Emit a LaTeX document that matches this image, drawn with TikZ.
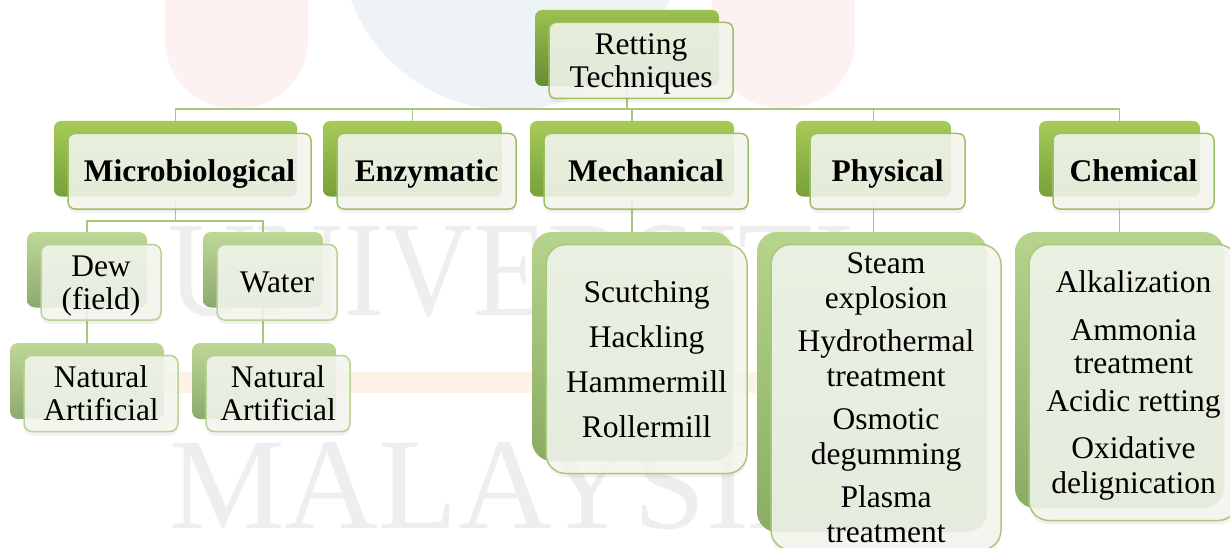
\documentclass[tikz,border=0pt]{standalone}
\usepackage{fontspec}
\setmainfont{Liberation Serif}
\usetikzlibrary{calc,shadows}

\definecolor{conncol}{HTML}{A8C67C}
\definecolor{rootTop}{HTML}{9BC150}
\definecolor{rootBot}{HTML}{668C34}
\definecolor{oneTop}{HTML}{A6CB57}
\definecolor{oneBot}{HTML}{78A03B}
\definecolor{twoTop}{HTML}{BDD896}
\definecolor{twoBot}{HTML}{8DAA6E}
\definecolor{listTop}{HTML}{B6D48B}
\definecolor{listBot}{HTML}{8AAC62}
\definecolor{faceFill}{HTML}{F3F6EE}
\definecolor{edgeOne}{HTML}{9DC062}
\definecolor{edgeTwo}{HTML}{B8D293}
\definecolor{edgeList}{HTML}{A9C87C}
\definecolor{wmRed}{HTML}{FDF1F1}
\definecolor{wmBlue}{HTML}{EEF3F8}
\definecolor{wmOrange}{HTML}{FDF2E5}
\definecolor{wmGrey}{HTML}{EEEEEE}

% struts on the first and last line keep capitals centred in every tile
\newcommand\capstrut{\rule{0pt}{29pt}}
\newcommand\footstrut{\rule[-8pt]{0pt}{8pt}}

% green backing tile: name, left, top, width, height, kind
\newcommand\backtile[6]{%
  \node[#6 back, minimum width=#4, minimum height=#5] (#1-b) at (#2,#3) {};
}
% pale face tile shifted down-right over its backing tile: name, width, height, kind, text
\newcommand\facetile[5]{%
  \node[#4 face, minimum width=#2, minimum height=#3] (#1) at ($(#1-b.north west)+(14,12.5)$) {\capstrut#5\footstrut};
}

\begin{document}
\begin{tikzpicture}[x=1pt,y=-1pt,
  tile/.style={anchor=north west, inner sep=0pt, outer sep=0pt},
  facebase/.style={tile, fill=faceFill, fill opacity=0.88, text opacity=1,
    line width=1.5pt, align=center,
    drop shadow={opacity=0.10, shadow xshift=0pt, shadow yshift=-4pt},
    font=\fontsize{31.5}{33}\selectfont},
  root back/.style={tile, rounded corners=7pt, top color=rootTop, bottom color=rootBot},
  root face/.style={facebase, rounded corners=7pt, draw=edgeOne},
  one back/.style={tile, rounded corners=7pt, top color=oneTop, bottom color=oneBot},
  one face/.style={facebase, rounded corners=7pt, draw=edgeOne, font=\fontsize{31.5}{33}\selectfont\bfseries},
  two back/.style={tile, rounded corners=8pt, top color=twoTop, bottom color=twoBot},
  two face/.style={facebase, rounded corners=8pt, draw=edgeTwo},
  list back/.style={tile, rounded corners=20pt, top color=listTop, bottom color=listBot},
  list face/.style={facebase, rounded corners=20pt, draw=edgeList},
  conn/.style={draw=conncol, line width=1.6pt},
  wmtext/.style={inner sep=0pt, text=wmGrey}
]
\useasboundingbox (0,0) rectangle (1230,548);

% faint emblem and lettering behind everything
\fill[wmRed, rounded corners=68pt] (165,-90) rectangle (308,108);
\fill[wmRed, rounded corners=68pt] (712,-90) rectangle (855,108);
\fill[wmBlue] (510,-60) circle (170);
\fill[wmOrange] (165,372) rectangle (855,393);
\node[wmtext, anchor=base west, xscale=0.9, font=\fontsize{136}{136}\selectfont] (wm1) at (167,315) {UNIVERSITI};
\node[wmtext, anchor=base west, font=\fontsize{130}{130}\selectfont] (wm2) at (169,528) {MALAYSIA};

% backing tiles
\backtile{root}{535}{10}{184}{76}{root}
\backtile{micro}{54}{121}{243}{75.5}{one}
\backtile{enzy}{323}{121}{179}{75.5}{one}
\backtile{mech}{530}{121}{204}{75.5}{one}
\backtile{phys}{796}{121}{155}{75.5}{one}
\backtile{chem}{1039}{121}{161}{75.5}{one}
\backtile{dew}{27}{232}{120}{75.5}{two}
\backtile{water}{203}{232}{120}{75.5}{two}
\backtile{natA}{10}{343}{154}{76}{two}
\backtile{natB}{192}{343}{144}{76}{two}
\backtile{mechl}{532}{232}{201}{229}{list}
\backtile{physl}{757}{232}{230}{300}{list}
\backtile{cheml}{1015}{232}{209}{276}{list}

% connectors
\coordinate (bus) at ($(root-b.south)+(0,23.3)$);
\draw[conn] (root-b.south) -- (bus);
\foreach \n in {micro,enzy,mech,phys,chem}
  \draw[conn] (bus) -| (\n-b.north);
\coordinate (mbus) at ($(micro-b.south)+(0,24.5)$);
\draw[conn] (micro-b.south) -- (mbus);
\draw[conn] (mbus) -| (dew-b.north);
\draw[conn] (mbus) -| (water-b.north);
\draw[conn] (dew-b.south) -- (dew-b.south |- natA-b.north);
\draw[conn] (water-b.south) -- (water-b.south |- natB-b.north);
\draw[conn] (mech-b.south) -- (mech-b.south |- mechl-b.north);
\draw[conn] (phys-b.south) -- (phys-b.south |- physl-b.north);
\draw[conn] (chem-b.south) -- (chem-b.south |- cheml-b.north);

% face tiles with the labels
\facetile{root}{184}{76}{root}{Retting\\Techniques}
\facetile{micro}{243}{75.5}{one}{Microbiological}
\facetile{enzy}{179}{75.5}{one}{Enzymatic}
\facetile{mech}{204}{75.5}{one}{Mechanical}
\facetile{phys}{155}{75.5}{one}{Physical}
\facetile{chem}{161}{75.5}{one}{Chemical}
\facetile{dew}{120}{75.5}{two}{Dew\\(field)}
\facetile{water}{120}{75.5}{two}{Water}
\facetile{natA}{154}{76}{two}{Natural\\Artificial}
\facetile{natB}{144}{76}{two}{Natural\\Artificial}
\facetile{mechl}{201}{229}{list}{Scutching\\[12pt]Hackling\\[12pt]Hammermill\\[12pt]Rollermill}
\facetile{physl}{230}{300}{list}{Steam\\[1.5pt]explosion\\[10.5pt]Hydrothermal\\[1.5pt]treatment\\[10.5pt]Osmotic\\[1.5pt]degumming\\[10.5pt]Plasma\\[1.5pt]treatment}
\facetile{cheml}{209}{276}{list}{Alkalization\\[15pt]Ammonia\\treatment\\[5pt]Acidic retting\\[14pt]Oxidative\\[2pt]delignication}
\end{tikzpicture}
\end{document}
